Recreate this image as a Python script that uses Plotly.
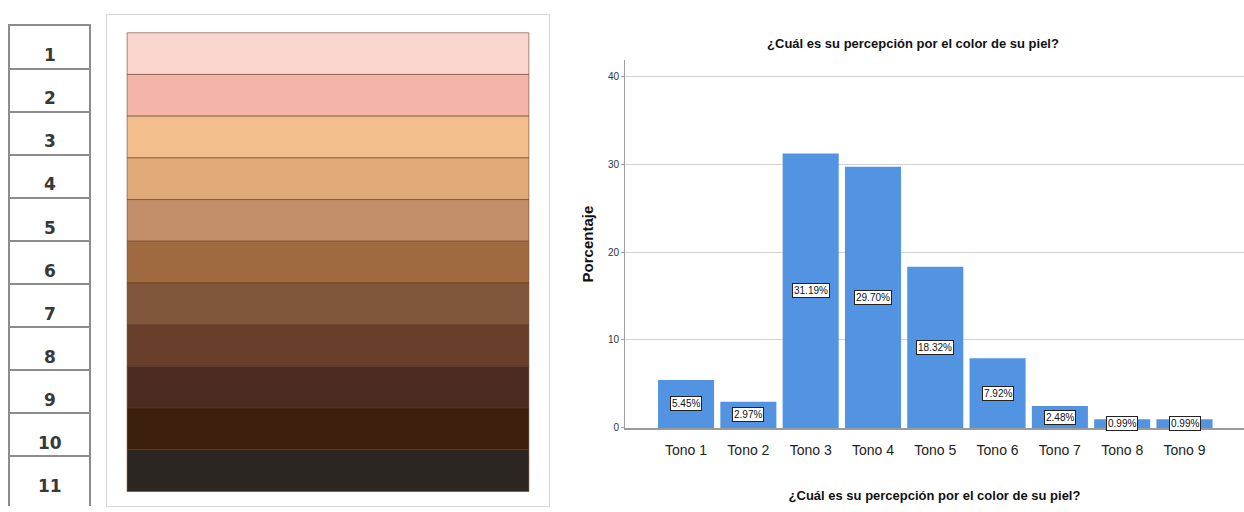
import plotly.graph_objects as go

# ---- data -------------------------------------------------------------
tone_numbers = [str(i) for i in range(1, 12)]
tone_colors = [
    "#FBD5CF", "#F4B5A8", "#F2BE8C", "#DFAA78", "#C38E6A", "#A06A40",
    "#82563D", "#693E2B", "#4B2B22", "#3D1F0E", "#2B2622",
]

categories = ["Tono 1", "Tono 2", "Tono 3", "Tono 4", "Tono 5",
              "Tono 6", "Tono 7", "Tono 8", "Tono 9"]
percentages = [5.45, 2.97, 31.19, 29.70, 18.32, 7.92, 2.48, 0.99, 0.99]
y_ticks = [0, 10, 20, 30, 40]

title_text = "¿Cuál es su percepción por el color de su piel?"
y_title = "Porcentaje"

# ---- page geometry (pixels) --------------------------------------------
W, H = 1244, 512
SANS = "Liberation Sans, Arial, sans-serif"
BAR_BLUE = "#5394E2"


def px_x(p):
    return p / W


def px_y(p):
    return 1 - p / H


fig = go.Figure()

# colour swatches of the scale (one stacked band per tone)
fig.add_trace(go.Bar(
    x=[0.5] * len(tone_colors),
    y=[1] * len(tone_colors),
    base=list(range(len(tone_colors))),
    width=0.909,
    marker=dict(color=tone_colors, line=dict(color="rgba(95,55,35,0.55)", width=1)),
    hoverinfo="skip",
    xaxis="x2", yaxis="y2",
    showlegend=False,
))

# distribution of perceived skin tone
fig.add_trace(go.Bar(
    x=categories,
    y=percentages,
    marker=dict(color=BAR_BLUE, line=dict(width=0)),
    showlegend=False,
))

annotations = []

# numbered column of the scale (labels sit slightly low in each cell)
for i, num in enumerate(tone_numbers):
    annotations.append(dict(
        x=0.5, y=i + 0.5, xref="x3", yref="y3",
        text=num, showarrow=False, yshift=-8,
        font=dict(family="DejaVu Sans", size=17, color="#383838", weight="bold"),
    ))

# value labels in white boxes at mid-height of each bar
for cat, val in zip(categories, percentages):
    annotations.append(dict(
        x=cat, y=val / 2, xref="x", yref="y",
        text=f"{val:.2f}%", showarrow=False,
        font=dict(family=SANS, size=10, color="#111"),
        bgcolor="white", bordercolor="#222", borderwidth=1, borderpad=1,
    ))

fig.update_layout(
    width=W, height=H,
    margin=dict(l=0, r=0, t=0, b=0),
    paper_bgcolor="white", plot_bgcolor="white",
    barmode="overlay",
    bargap=0.1,
    annotations=annotations,
    title=dict(
        text=title_text,
        x=px_x(913), xanchor="center", xref="paper",
        y=px_y(44), yanchor="middle", yref="paper",
        font=dict(family=SANS, size=13, color="#111", weight="bold"),
    ),
    xaxis=dict(
        domain=[px_x(625), 1.0],
        range=[-0.98, 8.955],
        showline=True, linecolor="#9a9a9a", linewidth=2,
        ticks="", showgrid=False, zeroline=False,
        ticklabelstandoff=8,
        tickfont=dict(family=SANS, size=14, color="#222"),
        title=dict(text=title_text, standoff=34,
                   font=dict(family=SANS, size=13, color="#111", weight="bold")),
        anchor="y",
    ),
    yaxis=dict(
        domain=[px_y(433), px_y(61)],
        range=[0, 41.8],
        tickvals=y_ticks,
        showline=True, linecolor="#a0a0a0", linewidth=1,
        ticks="outside", ticklen=3, tickcolor="#a0a0a0",
        showgrid=True, gridcolor="#d2d2d2", gridwidth=1,
        zeroline=False,
        tickfont=dict(family=SANS, size=10, color="#333"),
        title=dict(text=y_title, standoff=10,
                   font=dict(family=SANS, size=15, color="#111", weight="bold")),
        anchor="x",
    ),
    # swatch frame
    xaxis2=dict(
        domain=[px_x(107), px_x(549)], range=[0, 1],
        showline=True, mirror=True, linecolor="#dadada", linewidth=1,
        showgrid=False, zeroline=False, showticklabels=False, ticks="",
        anchor="y2",
    ),
    yaxis2=dict(
        domain=[0, px_y(15)], range=[11.35, -0.43],
        showline=True, mirror=True, linecolor="#dadada", linewidth=1,
        showgrid=False, zeroline=False, showticklabels=False, ticks="",
        anchor="x2",
    ),
    # numbered column
    xaxis3=dict(
        domain=[px_x(10), px_x(89)], range=[0, 1],
        side="top", showline=True, linecolor="#8c8c8c", linewidth=1.5,
        showgrid=False, zeroline=False, showticklabels=False, ticks="",
        anchor="y3",
    ),
    yaxis3=dict(
        domain=[0, px_y(26)], range=[11.15, 0],
        showline=True, mirror=True, linecolor="#8c8c8c", linewidth=1.5,
        tickvals=list(range(1, len(tone_numbers))),
        showgrid=True, gridcolor="#8c8c8c", gridwidth=1.5,
        zeroline=False, showticklabels=False, ticks="",
        anchor="x3",
    ),
)

fig.write_html("out.html")
